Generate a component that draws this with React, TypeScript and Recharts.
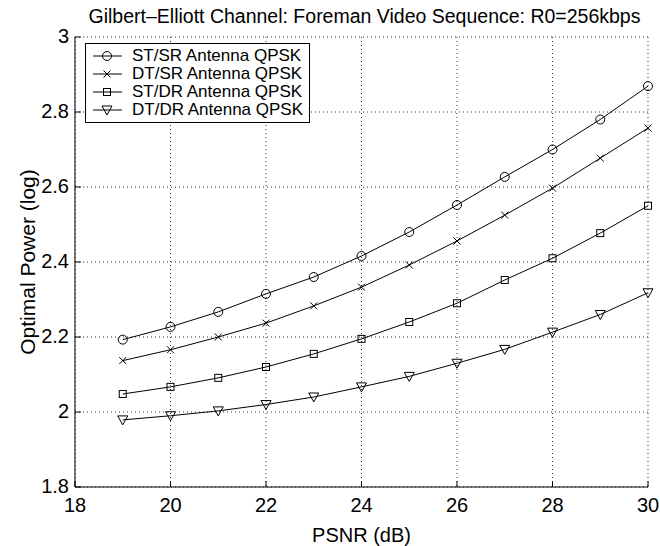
import { LineChart, Line, XAxis, YAxis, CartesianGrid } from "recharts";

const psnr = [19, 20, 21, 22, 23, 24, 25, 26, 27, 28, 29, 30];
const stsr = [2.193, 2.227, 2.267, 2.315, 2.36, 2.416, 2.48, 2.552, 2.627, 2.7, 2.78, 2.869];
const dtsr = [2.137, 2.166, 2.2, 2.237, 2.283, 2.333, 2.392, 2.456, 2.525, 2.597, 2.677, 2.757];
const stdr = [2.048, 2.067, 2.091, 2.12, 2.155, 2.195, 2.24, 2.29, 2.352, 2.41, 2.477, 2.55];
const dtdr = [1.979, 1.99, 2.003, 2.02, 2.04, 2.067, 2.095, 2.13, 2.167, 2.213, 2.26, 2.318];
const xTicks = [18, 20, 22, 24, 26, 28, 30];
const yTicks = [1.8, 2, 2.2, 2.4, 2.6, 2.8, 3];

const data = psnr.map((x, i) => ({ x, stsr: stsr[i], dtsr: dtsr[i], stdr: stdr[i], dtdr: dtdr[i] }));

const FONT = "'Liberation Sans', Arial, sans-serif";

type Shape = "circle" | "cross" | "square" | "triangle";

function Marker({ shape, cx, cy }: { shape: Shape; cx: number; cy: number }) {
  const p = { fill: "none", stroke: "#000", strokeWidth: 1 };
  if (shape === "circle") return <circle cx={cx} cy={cy} r={4.5} {...p} />;
  if (shape === "square") return <rect x={cx - 3.5} y={cy - 3.5} width={7} height={7} {...p} />;
  if (shape === "cross")
    return <path d={`M${cx - 3.5},${cy - 3.5}L${cx + 3.5},${cy + 3.5}M${cx - 3.5},${cy + 3.5}L${cx + 3.5},${cy - 3.5}`} {...p} />;
  return <path d={`M${cx - 5},${cy - 4}L${cx + 5},${cy - 4}L${cx},${cy + 5}Z`} {...p} />;
}

const dot = (shape: Shape) => (props: any) => (
  <Marker key={`${shape}-${props.index}`} shape={shape} cx={props.cx} cy={props.cy} />
);

const series: { key: string; name: string; shape: Shape }[] = [
  { key: "stsr", name: "ST/SR Antenna QPSK", shape: "circle" },
  { key: "dtsr", name: "DT/SR Antenna QPSK", shape: "cross" },
  { key: "stdr", name: "ST/DR Antenna QPSK", shape: "square" },
  { key: "dtdr", name: "DT/DR Antenna QPSK", shape: "triangle" },
];

const BottomTick = (props: any) => {
  const { x, y, payload } = props;
  return (
    <g>
      <line x1={x} y1={y} x2={x} y2={y - 6} stroke="#000" />
      <text x={x} y={y + 25} textAnchor="middle" fontSize={20} fontFamily={FONT} fill="#000">
        {payload.value}
      </text>
    </g>
  );
};

const TopTick = (props: any) => (
  <line x1={props.x} y1={props.y} x2={props.x} y2={props.y + 6} stroke="#000" />
);

const LeftTick = (props: any) => {
  const { x, y, payload } = props;
  return (
    <g>
      <line x1={x} y1={y} x2={x + 6} y2={y} stroke="#000" />
      <text x={x - 6} y={y + 6} textAnchor="end" fontSize={20} fontFamily={FONT} fill="#000">
        {payload.value}
      </text>
    </g>
  );
};

const RightTick = (props: any) => (
  <line x1={props.x} y1={props.y} x2={props.x - 6} y2={props.y} stroke="#000" />
);

function LegendBox() {
  return (
    <div
      style={{
        position: "absolute",
        left: 85,
        top: 43,
        border: "1px solid #000",
        background: "#fff",
        padding: "3px 6px 3px 6px",
        fontFamily: FONT,
        fontSize: 17,
        lineHeight: "18px",
      }}
    >
      {series.map((s) => (
        <div key={s.key} style={{ display: "flex", alignItems: "center" }}>
          <svg width={32} height={18} style={{ marginRight: 8 }}>
            <line x1={1} y1={9} x2={30} y2={9} stroke="#000" />
            <Marker shape={s.shape} cx={15} cy={9} />
          </svg>
          <span>{s.name}</span>
        </div>
      ))}
    </div>
  );
}

export default function App() {
  return (
    <div style={{ position: "absolute", left: 0, top: 0, width: 660, height: 546, background: "#fff" }}>
      <div
        style={{
          position: "absolute",
          left: 78,
          width: 573,
          top: 5,
          textAlign: "center",
          fontFamily: FONT,
          fontSize: 19.5,
          color: "#000",
        }}
      >
        Gilbert–Elliott Channel: Foreman Video Sequence: R0=256kbps
      </div>
      <LineChart width={660} height={546} data={data} margin={{ top: 37, right: 12, left: 0, bottom: 0 }}>
        <CartesianGrid xAxisId="b" yAxisId="l" stroke="#333" strokeDasharray="1 3" />
        <XAxis
          xAxisId="b"
          dataKey="x"
          type="number"
          domain={[18, 30]}
          ticks={xTicks}
          height={59}
          tickSize={0}
          tickMargin={0}
          tickLine={false}
          tick={BottomTick}
          axisLine={{ stroke: "#000" }}
          label={{ value: "PSNR (dB)", position: "insideBottom", offset: 4, fontSize: 20, fontFamily: FONT, fill: "#000" }}
        />
        <XAxis
          xAxisId="t"
          orientation="top"
          dataKey="x"
          type="number"
          domain={[18, 30]}
          ticks={xTicks}
          height={0}
          tickSize={0}
          tickMargin={0}
          tickLine={false}
          tick={TopTick}
          axisLine={{ stroke: "#000" }}
        />
        <YAxis
          yAxisId="l"
          type="number"
          domain={[1.8, 3]}
          ticks={yTicks}
          width={75}
          tickSize={0}
          tickMargin={0}
          tickLine={false}
          tick={LeftTick}
          axisLine={{ stroke: "#000" }}
          label={{
            value: "Optimal Power (log)",
            angle: -90,
            position: "insideLeft",
            offset: 28,
            fontSize: 21,
            fontFamily: FONT,
            fill: "#000",
            style: { textAnchor: "middle" },
          }}
        />
        <YAxis
          yAxisId="r"
          orientation="right"
          type="number"
          domain={[1.8, 3]}
          ticks={yTicks}
          width={0}
          tickSize={0}
          tickMargin={0}
          tickLine={false}
          tick={RightTick}
          axisLine={{ stroke: "#000" }}
        />
        {series.map((s) => (
          <Line
            key={s.key}
            xAxisId="b"
            yAxisId="l"
            dataKey={s.key}
            name={s.name}
            type="linear"
            stroke="#000"
            strokeWidth={1}
            dot={dot(s.shape)}
            activeDot={false}
            isAnimationActive={false}
          />
        ))}
      </LineChart>
      <LegendBox />
    </div>
  );
}
